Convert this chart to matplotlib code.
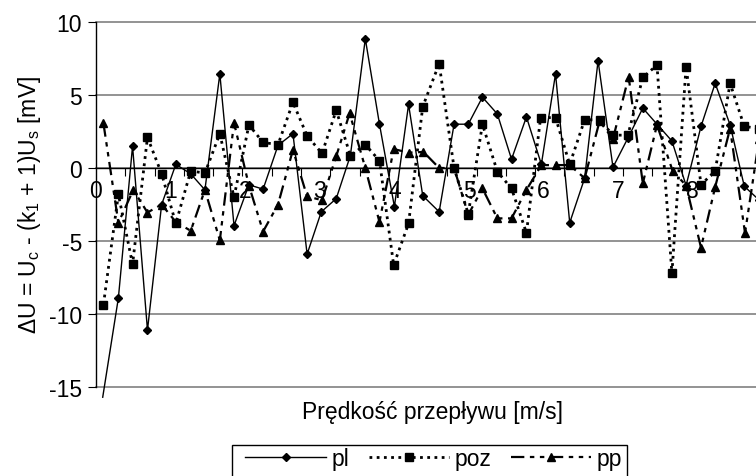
import matplotlib
matplotlib.use("Agg")
import matplotlib.pyplot as plt
from matplotlib.patches import Rectangle

plt.rcParams['font.family'] = ['Liberation Sans', 'DejaVu Sans']
plt.rcParams['mathtext.fontset'] = 'custom'
plt.rcParams['mathtext.rm'] = 'Liberation Sans'
plt.rcParams['mathtext.it'] = 'Liberation Sans'
plt.rcParams['mathtext.default'] = 'regular'

# flow velocity [m/s] and voltage difference [mV] for each series
x_pl = [0.09, 0.30, 0.49, 0.69, 0.88, 1.07, 1.27, 1.46, 1.66, 1.85, 2.05, 2.24, 2.44, 2.64, 2.83,
        3.02, 3.22, 3.41, 3.61, 3.80, 4.00, 4.19, 4.38, 4.60, 4.80, 4.99, 5.18, 5.38, 5.57, 5.77,
        5.97, 6.16, 6.35, 6.55, 6.73, 6.93, 7.13, 7.33, 7.52, 7.72, 7.91, 8.11, 8.30, 8.50, 8.69, 8.89]
y_pl = [-15.7, -8.9, 1.5, -11.1, -2.5, 0.25, -0.4, -1.5, 6.45, -3.95, -1.15, -1.45, 1.55, 2.35, -5.9,
        -3.0, -2.1, 0.85, 8.85, 3.0, -2.65, 4.35, -1.9, -3.0, 3.0, 3.0, 4.85, 3.7, 0.6, 3.5,
        0.25, 6.45, -3.75, -0.7, 7.35, 0.05, 2.05, 4.1, 3.0, 1.85, -1.2, 2.85, 5.8, 2.95, -1.25, -2.2]

x_poz = [0.10, 0.30, 0.49, 0.69, 0.88, 1.07, 1.27, 1.46, 1.66, 1.85, 2.05, 2.24, 2.44, 2.64, 2.83,
         3.03, 3.22, 3.41, 3.61, 3.80, 3.99, 4.19, 4.38, 4.60, 4.80, 4.99, 5.18, 5.38, 5.57, 5.77,
         5.96, 6.16, 6.35, 6.55, 6.75, 6.93, 7.13, 7.33, 7.52, 7.72, 7.91, 8.11, 8.30, 8.50, 8.69, 8.89]
y_poz = [-9.35, -1.8, -6.6, 2.1, -0.4, -3.8, -0.2, -0.35, 2.35, -2.0, 2.95, 1.75, 1.6, 4.5, 2.2,
         1.0, 3.95, 0.85, 1.6, 0.5, -6.65, -3.8, 4.2, 7.15, 0.0, -3.15, 3.0, -0.25, -1.4, -4.45,
         3.45, 3.45, 0.25, 3.3, 3.3, 2.25, 2.25, 6.2, 7.05, -7.2, 6.95, -1.15, -0.2, 5.8, 2.85, 2.7]

x_pp = [0.10, 0.30, 0.50, 0.69, 0.88, 1.07, 1.27, 1.46, 1.66, 1.85, 2.05, 2.24, 2.44, 2.64, 2.83,
        3.03, 3.22, 3.40, 3.61, 3.80, 3.99, 4.19, 4.39, 4.60, 4.80, 4.99, 5.18, 5.38, 5.57, 5.77,
        5.97, 6.16, 6.35, 6.55, 6.75, 6.93, 7.14, 7.33, 7.52, 7.73, 7.91, 8.11, 8.30, 8.50, 8.70, 8.89]
y_pp = [3.05, -3.75, -1.5, -3.05, -2.5, -3.7, -4.3, -1.5, -4.95, 3.1, -1.2, -4.35, -2.5, 1.25, -1.95,
        -2.2, 0.8, 3.75, 0.0, -3.7, 1.3, 1.05, 1.1, 0.0, 0.0, -3.2, -1.4, -3.45, -3.45, -1.5,
        0.2, 0.2, 0.2, -0.7, 3.2, 2.0, 6.25, -1.05, 2.95, -0.2, -1.2, -5.45, -1.3, 2.7, -4.45, 2.0]

x_labels = ['0', '1', '2', '3', '4', '5', '6', '7', '8']
y_ticks = [-15, -10, -5, 0, 5, 10]

fs = 16.5

fig = plt.figure(figsize=(7.56, 4.77), dpi=100)
ax = fig.add_axes([96 / 756, 89 / 477, 660 / 756, 365 / 477])

ax.plot(x_pl, y_pl, color='black', linewidth=1.0, marker='D', markersize=4.5,
        markevery=list(range(1, len(x_pl))), label='pl', clip_on=False, zorder=4)
ax.plot(x_poz, y_poz, color='black', linewidth=2.0, linestyle=(0, (1, 1.6)),
        marker='s', markersize=5.5, label='poz', zorder=3)
ax.plot(x_pp, y_pp, color='black', linewidth=1.6, linestyle=(0, (6, 2.5, 2, 2.5, 2, 2.5)),
        marker='^', markersize=6, label='pp', zorder=3)

ax.set_xlim(0, 660 / 74.6)
ax.set_ylim(-15, 10)

ax.set_yticks(y_ticks)
ax.set_yticklabels([str(v) for v in y_ticks])
ax.set_xticks(range(len(x_labels)))
ax.set_xticklabels(x_labels)
ax.set_xticks([i * 0.3925 for i in range(1, 23)], minor=True)

ax.spines['bottom'].set_position(('data', 0))
ax.spines['top'].set_visible(False)
ax.spines['right'].set_visible(False)
ax.spines['left'].set_linewidth(1.0)
ax.spines['bottom'].set_linewidth(1.0)

ax.tick_params(axis='x', which='major', length=0, pad=8, labelsize=fs)
ax.tick_params(axis='x', which='minor', length=6, width=0.8, direction='out')
ax.tick_params(axis='y', length=6, width=0.8, direction='out', pad=4, labelsize=fs)

ax.yaxis.grid(True, color='#808080', linewidth=1.2)
ax.set_axisbelow(True)
for line in ax.get_ygridlines():
    line.set_clip_on(False)

fig.text(30 / 756, 1 - 205 / 477, r'$\Delta$U = U$_c$ - (k$_1$ + 1)U$_s$ [mV]',
         rotation=90, ha='center', va='center', fontsize=fs)
fig.text(432 / 756, 1 - 413 / 477, 'Prędkość przepływu [m/s]', ha='center', va='center',
         fontsize=fs)

# legend box runs past the bottom edge, as in the source picture
fig.patches.append(Rectangle((232 / 756, -0.1), 395 / 756, 0.1 + 31 / 477,
                             transform=fig.transFigure, fill=False, edgecolor='black',
                             linewidth=1.0))
fig.legend(loc='upper left', bbox_to_anchor=(242 / 756, 1 - 445 / 477), ncol=3,
           fontsize=fs, frameon=False, handlelength=3.5, handletextpad=0.25,
           columnspacing=0.85, borderpad=0.15, borderaxespad=0)

fig.savefig('out.png', dpi=100)
